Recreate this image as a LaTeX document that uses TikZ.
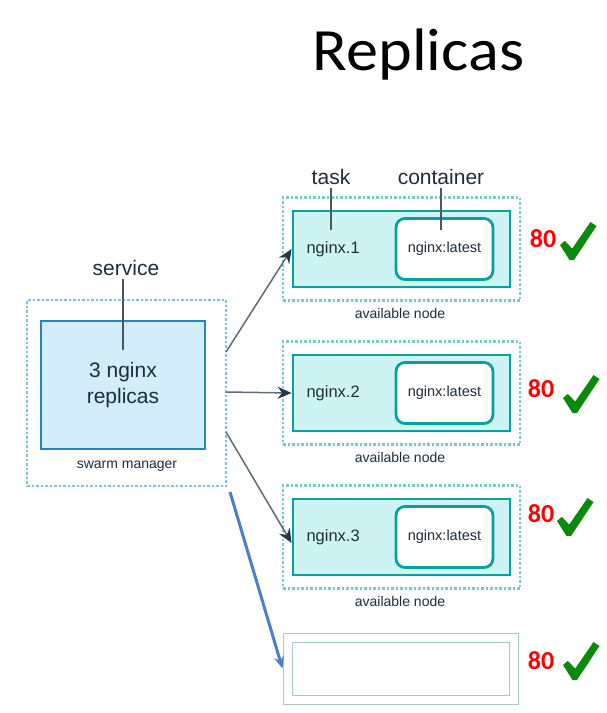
\documentclass[tikz,border=0pt]{standalone}
\usepackage{fontspec}
\setmainfont{Liberation Sans}
\newfontfamily\titlefont{Carlito}
\usetikzlibrary{arrows.meta}

\definecolor{inkdark}{HTML}{1E2D3C}
\definecolor{mgredge}{HTML}{2185C5}
\definecolor{mgrfill}{HTML}{D3EDFB}
\definecolor{mgrdots}{HTML}{7CC0E4}
\definecolor{hostdots}{HTML}{74CACD}
\definecolor{tealedge}{HTML}{0AA0A0}
\definecolor{tealfill}{HTML}{CDF3F3}
\definecolor{arrowgray}{HTML}{5D6B78}
\definecolor{tipnavy}{HTML}{22384A}
\definecolor{bluearrow}{HTML}{4D7FC4}
\definecolor{spareedge}{HTML}{A3CBCE}
\definecolor{portred}{HTML}{FF0000}
\definecolor{okgreen}{HTML}{0A8A0A}

\tikzset{
  tick/.pic={\fill[okgreen] (0,23) -- (4.8,18.8) -- (12.2,26.6) -- (30.5,0)
    -- (36.5,4) -- (14,38) -- (9.5,38) -- cycle;}
}

\begin{document}
\begin{tikzpicture}[x=1pt,y=-1pt,
  every node/.style={text=inkdark},
  dot box/.style={rectangle,draw=#1,line width=2.5pt,dash pattern=on 2.5pt off 2pt},
  host box/.style={dot box=hostdots,minimum width=237pt,minimum height=103pt},
  task box/.style={rectangle,draw=tealedge,fill=tealfill,line width=2.8pt,
    minimum width=217pt,minimum height=76pt},
  ctr box/.style={rectangle,rounded corners=9pt,draw=tealedge,fill=white,line width=2.8pt,
    minimum width=97pt,minimum height=61pt,font=\fontsize{14.5}{16}\selectfont},
  big lbl/.style={font=\fontsize{21}{24}\selectfont},
  small lbl/.style={font=\fontsize{14}{16}\selectfont},
  port lbl/.style={anchor=base,text=portred,font=\titlefont\bfseries\fontsize{26}{26}\selectfont},
  leader/.style={draw=inkdark!80,line width=1.2pt},
  link/.style={draw=arrowgray,line width=1.5pt,-{Stealth[length=14pt,width=12pt,color=tipnavy]}},
  spare box/.style={rectangle,draw=spareedge,line width=1pt}]

  \fill[white] (0,0) rectangle (607,713);
  \useasboundingbox (0,0) rectangle (607,713);

  \node[anchor=base,xscale=1.07,font=\titlefont\fontsize{60}{60}\selectfont,text=black]
    (title) at (418.5,70) {Replicas};

  % swarm manager
  \node[dot box=mgrdots,minimum width=199pt,minimum height=186pt] (mgr) at (126.5,393) {};
  \node[rectangle,draw=mgredge,fill=mgrfill,line width=2.8pt,minimum width=164pt,
    minimum height=128pt,align=center,big lbl] (svc) at (123,385) {3 nginx\\[2pt]replicas};
  \node[small lbl] (mgrlbl) at (127,466) {swarm manager};
  \node[big lbl] (svclbl) at (126,268) {service};
  \coordinate (svcpt) at (123,350);
  \draw[leader] (svclbl.south -| svcpt) -- (svcpt);

  % available nodes
  \foreach \i/\y in {1/249,2/393,3/537}{
    \node[host box] (h\i) at (401.5,\y) {};
    \node[task box] (n\i) at (401.5,\y) {};
    \node[ctr box] (c\i) at (444.5,\y) {nginx:latest};
    \node[anchor=west,font=\fontsize{16.5}{18}\selectfont] (t\i) at (303,\y) {nginx.\i};
    \node[small lbl] (a\i) at (400,\y+64) {available node};
  }

  \node[big lbl] (tasklbl) at (331,177) {task};
  \node[big lbl] (ctrlbl) at (441,177) {container};
  \coordinate (taskpt) at (331,230);
  \coordinate (ctrpt) at (441,230);
  \draw[leader] (tasklbl.south -| taskpt) -- (taskpt);
  \draw[leader] (ctrlbl.south -| ctrpt) -- (ctrpt);

  % spare node
  \node[spare box,minimum width=235pt,minimum height=71pt] (spare) at (400.5,668.5) {};
  \node[spare box,minimum width=217pt,minimum height=53pt] (spareinner) at (400.5,668.5) {};

  % ports
  \node[port lbl] (p1) at (543,247) {80};
  \node[port lbl] (p2) at (541,397) {80};
  \node[port lbl] (p3) at (541,522) {80};
  \node[port lbl] (p4) at (541,669) {80};
  \pic at (560,222) {tick};
  \pic at (563,375) {tick};
  \pic at (557,498) {tick};
  \pic at (563,642) {tick};

  % links
  \coordinate (s1) at (226,352);
  \coordinate (s2) at (226,392);
  \coordinate (s3) at (226,432);
  \coordinate (s4) at (230,492);
  \draw[link] (s1) -- (n1.west);
  \draw[link] (s2) -- (n2.west);
  \draw[link] (s3) -- ([yshift=-6pt]n3.west);
  \draw[draw=bluearrow,line width=3pt,-{Stealth[length=12pt,width=10pt]}] (s4) -- (spare.west);

\end{tikzpicture}
\end{document}
